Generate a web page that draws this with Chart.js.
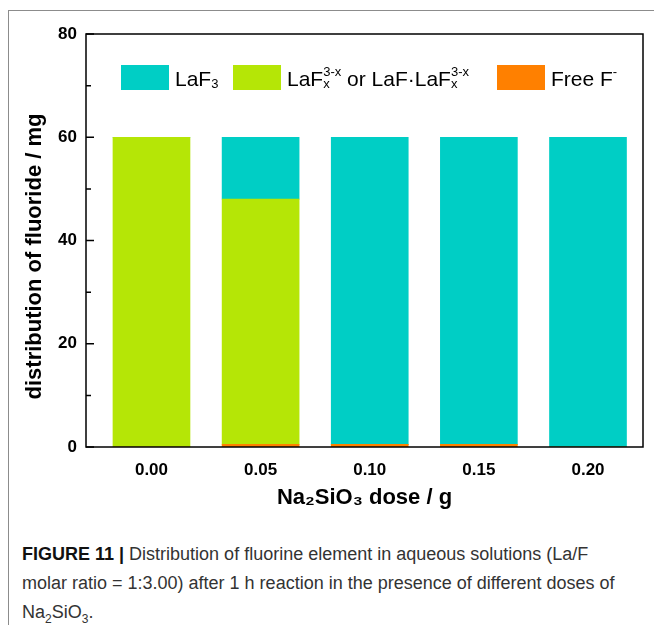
<!DOCTYPE html>
<html>
<head>
<meta charset="utf-8">
<script src="https://cdn.jsdelivr.net/npm/chart.js"></script>
<style>
  body { margin: 0; background: #fff; }
  #wrap { position: relative; width: 654px; height: 625px; overflow: hidden; }
  #frame { position: absolute; left: 8px; top: 10px; width: 700px; height: 700px;
           border-left: 1px solid #8c8c8c; border-top: 1px solid #8c8c8c; }
  #chartId { position: absolute; left: 0; top: 0; }
  #caption { position: absolute; left: 22px; top: 540px; width: 630px;
             font-family: 'Liberation Sans Narrow', 'Liberation Sans', Arial, sans-serif;
             font-size: 18px; line-height: 29px; color: #333; }
  #caption b { color: #111; }
  #caption sub { font-size: 12px; line-height: 0; }
</style>
</head>
<body>
<div id="wrap">
  <div id="frame"></div>
  <canvas id="chartId" width="654" height="520"></canvas>
  <div id="caption"><b>FIGURE 11 |</b> Distribution of fluorine element in aqueous solutions (La/F<br>molar ratio = 1:3.00) after 1 h reaction in the presence of different doses of<br>Na<sub>2</sub>SiO<sub>3</sub>.</div>
</div>
<script>
  // data (mg)
  const doses = [0.00, 0.05, 0.10, 0.15, 0.20];
  const freeF = [0, 0.5, 0.5, 0.5, 0];
  const laFx = [60, 47.5, 0, 0, 0];
  const laF3 = [0, 12, 59.5, 59.5, 60];
  const yTicks = [0, 20, 40, 60, 80];
  const minorStep = 10;

  const labels = ['LaF3', 'LaFx3-x or LaF·LaFx3-x', 'Free F-'];
  const colors = ['#00cec5', '#b5e606', '#ff8000'];
  const yTitle = 'distribution of fluoride / mg';

  const FONT = "'Liberation Sans', Arial, sans-serif";

  // rich text pieces for the legend (sub / sup)
  const legendParts = [
    [['LaF', 'n'], ['3', 'sub']],
    [['LaF', 'n'], ['x', 'sub'], ['3-x', 'sup'], [' or LaF·LaF', 'n'], ['x', 'sub'], ['3-x', 'sup']],
    [['Free F', 'n'], ['-', 'sup']]
  ];
  const legendX = [35, 147, 411]; // box offsets from plot left

  function drawRich(ctx, x, y, parts) {
    let subStart = null;
    parts.forEach(([t, s]) => {
      if (s === 'n') {
        ctx.font = '21px ' + FONT;
        ctx.fillText(t, x, y);
        x += ctx.measureText(t).width;
        subStart = null;
      } else {
        ctx.font = '13px ' + FONT;
        let px = x;
        if (s === 'sup' && subStart !== null) px = subStart;
        const dy = s === 'sub' ? 2 : -10;
        ctx.fillText(t, px, y + dy);
        const w = ctx.measureText(t).width;
        if (s === 'sub') { subStart = x; x += w; }
        else x = Math.max(x, px + w);
      }
    });
    return x;
  }

  const framePlugin = {
    id: 'frame',
    afterDraw(chart) {
      const { ctx, chartArea: a, scales: { y } } = chart;
      ctx.save();
      ctx.strokeStyle = '#000';
      ctx.lineWidth = 1.5;
      ctx.strokeRect(a.left, a.top, a.right - a.left, a.bottom - a.top);
      ctx.beginPath();
      y.ticks.forEach((t, i) => {
        const py = y.getPixelForValue(t.value);
        ctx.moveTo(a.left, py); ctx.lineTo(a.left + 8, py);
        if (i < y.ticks.length - 1) {
          const my = y.getPixelForValue(t.value + minorStep);
          ctx.moveTo(a.left, my); ctx.lineTo(a.left + 5, my);
        }
      });
      ctx.stroke();

      // y axis title, a bit below the middle as in the figure
      ctx.save();
      ctx.translate(35, (a.top + a.bottom) / 2 + 16);
      ctx.rotate(-Math.PI / 2);
      ctx.font = 'bold 22px ' + FONT;
      ctx.fillStyle = '#000';
      ctx.textAlign = 'center';
      ctx.textBaseline = 'middle';
      ctx.fillText(yTitle, 0, 0);
      ctx.restore();

      // legend inside the plot
      const top = a.top + 31;
      ctx.textBaseline = 'alphabetic';
      [0, 1, 2].forEach(i => {
        const x = a.left + legendX[i];
        ctx.fillStyle = colors[i];
        ctx.fillRect(x, top, 48, 25);
        ctx.fillStyle = '#000';
        drawRich(ctx, x + 54, top + 21, legendParts[i]);
      });
      ctx.restore();
    }
  };

  const pts = arr => doses.map((d, i) => ({ x: d, y: arr[i] }));

  new Chart(document.getElementById('chartId'), {
    type: 'bar',
    data: {
      datasets: [
        { label: labels[2], data: pts(freeF), backgroundColor: colors[2] },
        { label: labels[1], data: pts(laFx), backgroundColor: colors[1] },
        { label: labels[0], data: pts(laF3), backgroundColor: colors[0] }
      ]
    },
    options: {
      responsive: false,
      animation: false,
      barThickness: 77,
      layout: { padding: { top: 34, right: 11, left: 0, bottom: 0 } },
      plugins: { legend: { display: false }, tooltip: { enabled: false } },
      scales: {
        x: {
          type: 'linear',
          stacked: true,
          offset: false,
          min: -0.03,
          max: 0.2252,
          afterBuildTicks: s => { s.ticks = doses.map(v => ({ value: v })); },
          afterFit: s => { s.height = 73; },
          grid: { display: false, drawTicks: false },
          border: { display: false },
          ticks: {
            padding: 13,
            color: '#000',
            font: { family: FONT, size: 17, weight: 'bold' },
            callback: v => v.toFixed(2)
          },
          title: {
            display: true,
            text: 'Na₂SiO₃ dose / g',
            color: '#000',
            font: { family: FONT, size: 22, weight: 'bold' },
            padding: { bottom: 9 }
          }
        },
        y: {
          stacked: true,
          min: 0,
          max: 80,
          afterBuildTicks: s => { s.ticks = yTicks.map(v => ({ value: v })); },
          afterFit: s => { s.width = 86; },
          grid: { display: false, drawTicks: false },
          border: { display: false },
          ticks: {
            padding: 9,
            color: '#000',
            font: { family: FONT, size: 17, weight: 'bold' }
          }
        }
      }
    },
    plugins: [framePlugin]
  });
</script>
</body>
</html>
